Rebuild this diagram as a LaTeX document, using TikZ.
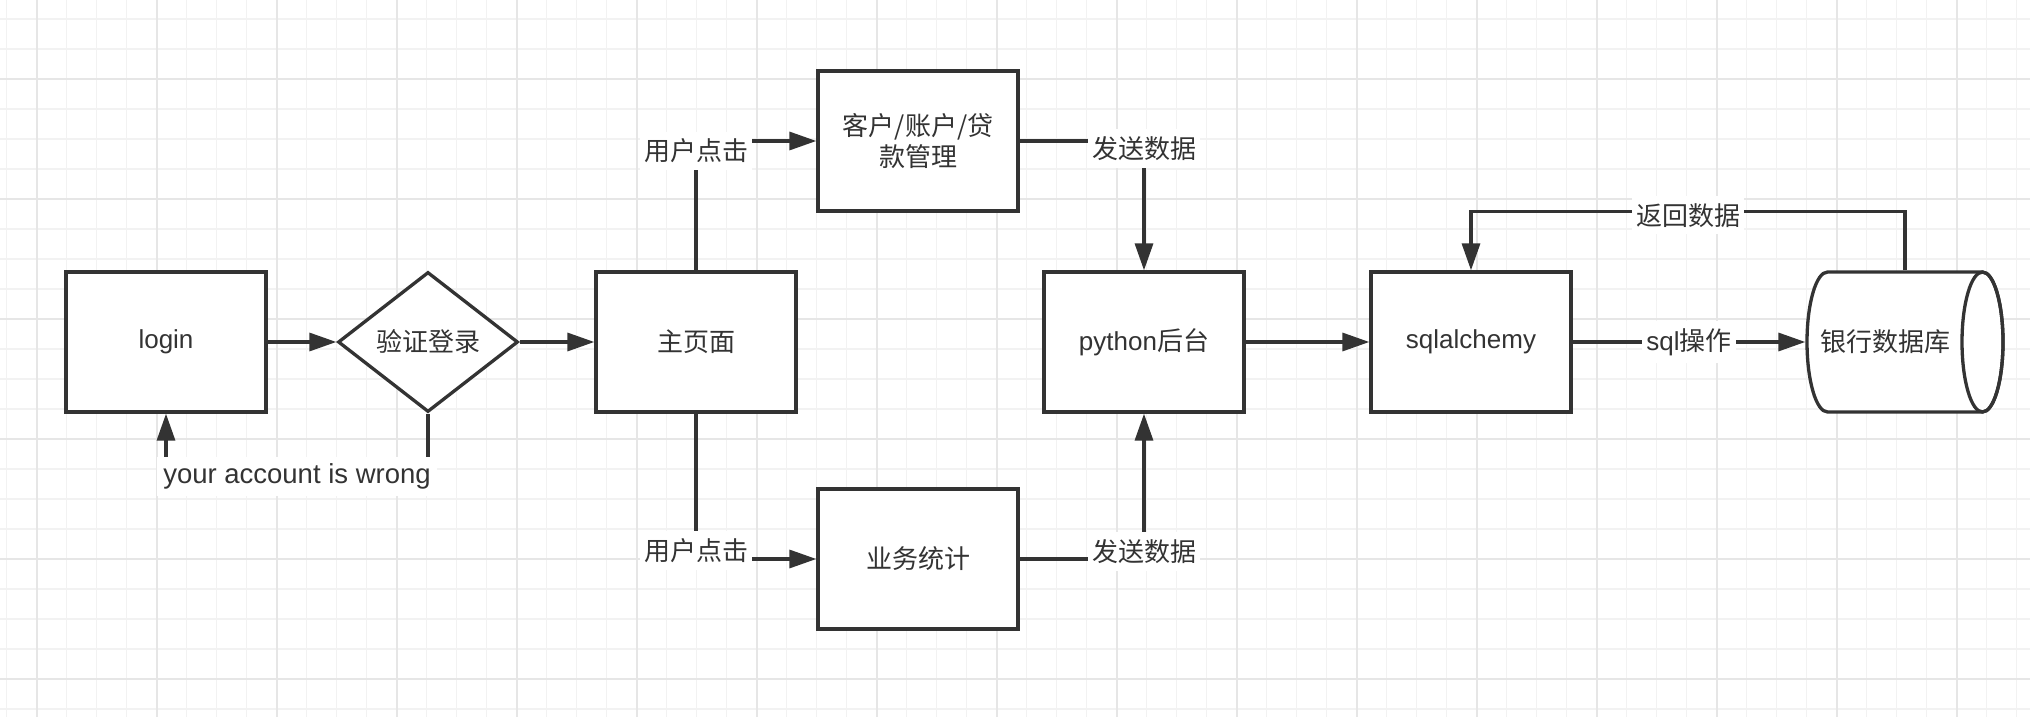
\documentclass[tikz,border=0pt]{standalone}
\usepackage{fontspec}
\setmainfont{Liberation Sans}
\newfontfamily\cjk{Noto Sans CJK SC}
\usetikzlibrary{shapes.geometric,arrows.meta}
\definecolor{ink}{HTML}{333333}
\definecolor{gridminor}{HTML}{F2F2F2}
\definecolor{gridmajor}{HTML}{E6E6E6}

\begin{document}
\begin{tikzpicture}[x=1pt,y=1pt,
    every node/.style={font=\fontsize{26}{31}\selectfont, text=ink},
    box/.style={draw=ink, line width=3.3pt, fill=white, minimum width=200pt,
      minimum height=140pt, align=center, inner sep=2pt},
    decision/.style={box, diamond, minimum width=180pt, minimum height=140pt, inner sep=0pt},
    wire/.style={draw=ink, line width=3.3pt},
    link/.style={wire, -{Triangle[length=27pt,width=18pt]}},
    tag/.style={fill=white, inner xsep=4pt, inner ysep=7pt}]
  \useasboundingbox (0,0) rectangle (2030,716);
  \begin{scope}
    \clip (0,0) rectangle (2030,716);
    \fill[white] (0,0) rectangle (2030,716);
    \draw[gridminor, line width=1.5pt, shift={(6.7,7)}] (-30,-30) grid[step=30pt] (2040,720);
    \draw[gridmajor, line width=1.8pt, shift={(36.7,37)}] (-120,-120) grid[step=120pt] (2040,720);
  \end{scope}

  \node[box] (login) at (166,374) {login};
  \node[decision] (chk) at (428,374) {\cjk 验证登录};
  \node[box] (home) at (696,374) {\cjk 主页面};
  \node[box] (mgmt) at (918,575) {{\cjk 客户/账户/贷}\\{\cjk 款管理}};
  \node[box] (stat) at (918,157) {\cjk 业务统计};
  \node[box] (py) at (1144,374) {python{\cjk 后台}};
  \node[box] (orm) at (1471,374) {sqlalchemy};
  \node[minimum width=196pt, minimum height=140pt, inner sep=0pt, outer sep=1.65pt] (db) at (1905,374) {};
  \draw[wire, fill=white] ([shift={(-77.5,70)}]db.center) -- ([shift={(77.5,70)}]db.center)
    arc[start angle=90, end angle=-90, x radius=20.5, y radius=70]
    -- ([shift={(-77.5,-70)}]db.center)
    arc[start angle=270, end angle=90, x radius=20.5, y radius=70] -- cycle;
  \draw[wire] ([xshift=77.5pt]db.center) ellipse[x radius=20.5, y radius=70];
  \node (dbtext) at ([xshift=-20pt]db.center) {\cjk 银行数据库};

  \draw[link] (login) -- (chk);
  \draw[link] (chk) -- (home);
  \draw[link] (chk.south) -- ++(0,-63) -| (login.south)
    node[tag, pos=0.25, inner xsep=6pt, font=\fontsize{27.5}{31}\selectfont] {your account is wrong};
  \draw[link] (home.north) |- (mgmt.west) node[tag, pos=0.5, yshift=-10pt] {\cjk 用户点击};
  \draw[link] (home.south) |- (stat.west) node[tag, pos=0.5, yshift=8.5pt] {\cjk 用户点击};
  \draw[link] (mgmt.east) -| (py.north) node[tag, pos=0.5, yshift=-7.5pt] {\cjk 发送数据};
  \draw[link] (stat.east) -| (py.south) node[tag, pos=0.5, yshift=7.5pt] {\cjk 发送数据};
  \draw[link] (py) -- (orm);
  \draw[link] (orm) -- (db) node[tag, midway] {sql{\cjk 操作}};
  \draw[link] (db.north) -- ++(0,59) -| (orm.north)
    node[tag, pos=0.25, yshift=-4pt] {\cjk 返回数据};
\end{tikzpicture}
\end{document}
